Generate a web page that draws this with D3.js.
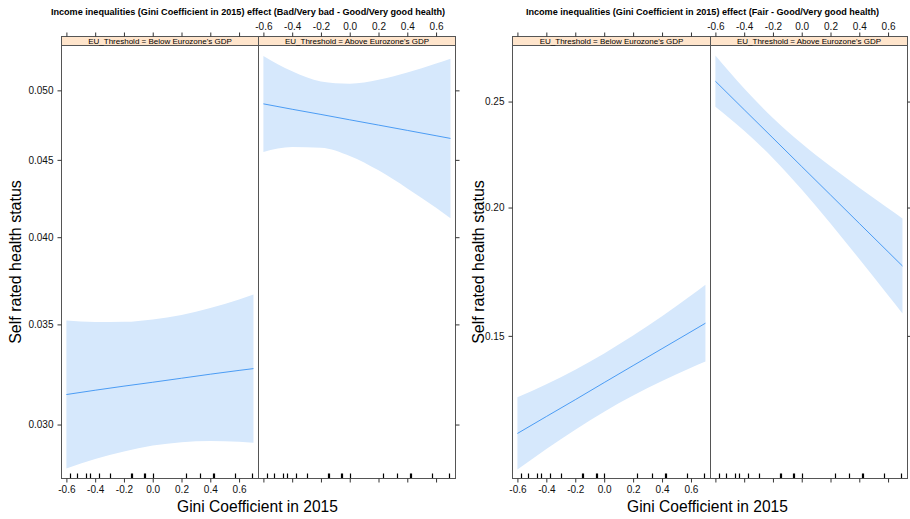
<!DOCTYPE html>
<html>
<head>
<meta charset="utf-8">
<script src="https://cdn.jsdelivr.net/npm/d3@7"></script>
<style>
  body { margin: 0; background: #fff; }
  svg { display: block; font-family: "Liberation Sans", Arial, sans-serif; }
</style>
</head>
<body>
<div id="chart"></div>
<script>
//
// data (probabilities, at the gini grid)
//
var giniGrid = [-0.6, -0.4, -0.2, 0.0, 0.2, 0.4, 0.6, 0.7]
var panelLabels = ["EU_Threshold = Below Eurozone's GDP", "EU_Threshold = Above Eurozone's GDP"]
var chartTitles = [
    'Income inequalities (Gini Coefficient in 2015) effect (Bad/Very bad - Good/Very good health)',
    'Income inequalities (Gini Coefficient in 2015) effect (Fair - Good/Very good health)'
]
// bad / very bad
var badFitBelow   = [0.03142, 0.03163, 0.03183, 0.03202, 0.03222, 0.03242, 0.03261, 0.03270]
var badUpperBelow = [0.03521, 0.03513, 0.03514, 0.03527, 0.03551, 0.03589, 0.03636, 0.03664]
var badLowerBelow = [0.02803, 0.02845, 0.02878, 0.02904, 0.02919, 0.02925, 0.02921, 0.02917]
var badFitAbove   = [0.04899, 0.04859, 0.04821, 0.04782, 0.04744, 0.04706, 0.04668, 0.04649]
var badUpperAbove = [0.05267, 0.05146, 0.05068, 0.05051, 0.05081, 0.05137, 0.05207, 0.05245]
var badLowerAbove = [0.04555, 0.04588, 0.04584, 0.04527, 0.04429, 0.04309, 0.04184, 0.04118]
// fair
var fairFitBelow   = [0.11925, 0.12417, 0.12922, 0.13455, 0.14000, 0.14563, 0.15144, 0.15444]
var fairUpperBelow = [0.12994, 0.13405, 0.13867, 0.14402, 0.15009, 0.15692, 0.16447, 0.16853]
var fairLowerBelow = [0.10934, 0.11492, 0.12034, 0.12562, 0.13048, 0.13503, 0.13929, 0.14135]
var fairFitAbove   = [0.26050, 0.24589, 0.23190, 0.21841, 0.20554, 0.19321, 0.18148, 0.17581]
var fairUpperAbove = [0.27410, 0.25669, 0.24177, 0.22927, 0.21850, 0.20872, 0.19965, 0.19525]
var fairLowerAbove = [0.24735, 0.23540, 0.22229, 0.20791, 0.19317, 0.17859, 0.16462, 0.15793]
// rug of observed gini values
var rugGini = [-0.577, -0.525, -0.465, -0.437, -0.375, -0.296, -0.152, -0.144, -0.06, -0.052,
    0.0, 0.23, 0.33, 0.421, 0.429, 0.57, 0.69]
// axes
var xLimits = [-0.634, 0.735]
var xTicks = [-0.6, -0.4, -0.2, 0.0, 0.2, 0.4, 0.6]
var badYTicks = [0.030, 0.035, 0.040, 0.045, 0.050]
var badYLimits = [0.0276, 0.0535]
var fairYTicks = [0.15, 0.20, 0.25]
var fairYLimits = [0.107, 0.2796]
var xTitle = 'Gini Coefficient in 2015'
var yTitle = 'Self rated health status'

//
// helpers
//
var logit = function(p) { return Math.log(p / (1 - p)) }
var invlogit = function(v) { return 1 / (1 + Math.exp(-v)) }

var bandColor = '#d6e8fc'
var lineColor = '#3b93f3'
var borderColor = '#555'

var svg = d3.select('#chart').append('svg')
    .attr('width', 910)
    .attr('height', 519)

function drawChart(opt) {
    var top = 45.5, bottom = 478.5, stripTop = 36.5
    var y = d3.scaleLinear()
        .domain([logit(opt.yLimits[0]), logit(opt.yLimits[1])])
        .range([bottom, top])

    panelLabels.forEach(function(label, i) {
        var x0 = i == 0 ? opt.left : opt.mid
        var x1 = i == 0 ? opt.mid : opt.right
        var x = d3.scaleLinear().domain(xLimits).range([x0, x1])
        var s = opt.series[i]
        var g = svg.append('g')

        // confidence band
        var area = d3.area()
            .x(function(d, j) { return x(giniGrid[j]) })
            .y0(function(d, j) { return y(logit(s.lower[j])) })
            .y1(function(d, j) { return y(logit(s.upper[j])) })
            .curve(d3.curveMonotoneX)
        g.append('path')
            .datum(s.fit)
            .attr('d', area)
            .attr('fill', bandColor)

        // fitted line
        var line = d3.line()
            .x(function(d, j) { return x(giniGrid[j]) })
            .y(function(d) { return y(logit(d)) })
            .curve(d3.curveMonotoneX)
        g.append('path')
            .datum(s.fit)
            .attr('d', line)
            .attr('fill', 'none')
            .attr('stroke', lineColor)
            .attr('stroke-width', 0.9)

        // rug
        g.selectAll('line.rug')
            .data(rugGini)
            .join('line')
            .attr('class', 'rug')
            .attr('x1', function(d) { return Math.round(x(d)) + 0.5 })
            .attr('x2', function(d) { return Math.round(x(d)) + 0.5 })
            .attr('y1', bottom)
            .attr('y2', bottom - 5)
            .attr('stroke', '#000')
            .attr('stroke-width', 1.2)

        // panel border
        g.append('rect')
            .attr('x', x0).attr('y', top)
            .attr('width', x1 - x0).attr('height', bottom - top)
            .attr('fill', 'none')
            .attr('stroke', borderColor)

        // strip
        g.append('rect')
            .attr('x', x0).attr('y', stripTop)
            .attr('width', x1 - x0).attr('height', top - stripTop)
            .attr('fill', '#ffe5cc')
            .attr('stroke', borderColor)
        g.append('text')
            .attr('x', (x0 + x1) / 2)
            .attr('y', top - 2)
            .attr('text-anchor', 'middle')
            .style('font-size', '8px')
            .attr('fill', '#000')
            .text(label)

        // bottom axis, labels under the first panel only
        var xb = d3.axisBottom(x).tickValues(xTicks).tickSize(4).tickSizeOuter(0)
            .tickFormat(i == 0 ? function(d) { return d.toFixed(1) } : '')
        g.append('g')
            .attr('transform', 'translate(0,' + bottom + ')')
            .call(xb)
            .call(function(a) { a.select('.domain').remove() })
        // top axis, labels over the second panel only
        var xt = d3.axisTop(x).tickValues(xTicks).tickSize(4).tickSizeOuter(0)
            .tickFormat(i == 1 ? function(d) { return d.toFixed(1) } : '')
        g.append('g')
            .attr('transform', 'translate(0,' + stripTop + ')')
            .call(xt)
            .call(function(a) { a.select('.domain').remove() })
    })

    // y axes
    var fmt = d3.format(opt.yFormat)
    svg.append('g')
        .attr('transform', 'translate(' + opt.left + ',0)')
        .call(d3.axisLeft(y).tickValues(opt.yTicks.map(logit)).tickSize(4).tickPadding(4)
            .tickFormat(function(d) { return fmt(invlogit(d)) }))
        .call(function(a) { a.select('.domain').remove() })
    svg.append('g')
        .attr('transform', 'translate(' + opt.right + ',0)')
        .call(d3.axisRight(y).tickValues(opt.yTicks.map(logit)).tickSize(4).tickFormat(''))
        .call(function(a) { a.select('.domain').remove() })

    svg.selectAll('.tick line').attr('stroke', '#333')
    svg.selectAll('.tick text').attr('fill', '#111').style('font-size', '10px')
        .style('font-family', '"Liberation Sans", Arial, sans-serif')

    // titles
    svg.append('text')
        .attr('x', opt.titleX).attr('y', 14.5)
        .attr('text-anchor', 'middle')
        .style('font-size', '9.1px').style('font-weight', 'bold')
        .text(opt.title)
    svg.append('text')
        .attr('x', opt.xTitleX).attr('y', 512)
        .attr('text-anchor', 'middle')
        .style('font-size', '15.6px')
        .text(xTitle)
    svg.append('text')
        .attr('transform', 'translate(' + opt.yTitleX + ',' + (top + bottom) / 2 + ') rotate(-90)')
        .attr('text-anchor', 'middle')
        .style('font-size', '16px')
        .text(yTitle)
}

drawChart({
    left: 61.5, mid: 258.5, right: 455.5,
    title: chartTitles[0], titleX: 248, xTitleX: 257.5, yTitleX: 21,
    yTicks: badYTicks, yLimits: badYLimits, yFormat: '.3f',
    series: [
        {fit: badFitBelow, lower: badLowerBelow, upper: badUpperBelow},
        {fit: badFitAbove, lower: badLowerAbove, upper: badUpperAbove}
    ]
})
drawChart({
    left: 512.5, mid: 710.5, right: 907.5,
    title: chartTitles[1], titleX: 702.5, xTitleX: 707.5, yTitleX: 484,
    yTicks: fairYTicks, yLimits: fairYLimits, yFormat: '.2f',
    series: [
        {fit: fairFitBelow, lower: fairLowerBelow, upper: fairUpperBelow},
        {fit: fairFitAbove, lower: fairLowerAbove, upper: fairUpperAbove}
    ]
})
</script>
</body>
</html>
